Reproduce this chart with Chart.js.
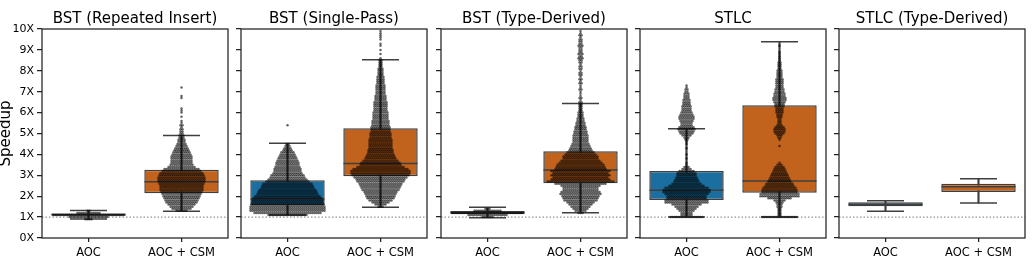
<!DOCTYPE html>
<html lang="en">
<head>
  <meta charset="UTF-8" />
  <title>Speedup per benchmark</title>
  <script src="https://cdn.jsdelivr.net/npm/chart.js"></script>
  <style>
    body { margin: 0; background: #fff; }
    #wrap { position: relative; width: 1034px; height: 274px; }
    canvas { position: absolute; top: 0; }
  </style>
</head>
<body>
  <div id="wrap">
    <canvas id="p0" width="230" height="274" style="left:0px"></canvas>
    <canvas id="p1" width="196" height="274" style="left:233px"></canvas>
    <canvas id="p2" width="196" height="274" style="left:433px"></canvas>
    <canvas id="p3" width="196" height="274" style="left:632px"></canvas>
    <canvas id="p4" width="196" height="274" style="left:831px"></canvas>
  </div>

  <script>
    const panelTitles = ['BST (Repeated Insert)', 'BST (Single-Pass)', 'BST (Type-Derived)', 'STLC', 'STLC (Type-Derived)'];
    const groups = ['AOC', 'AOC + CSM'];
    const yTicks = [0, 1, 2, 3, 4, 5, 6, 7, 8, 9, 10];
    const baseline = 1;

    // box statistics, [panel][group]
    const whiskerLow  = [[0.91, 1.28], [1.10, 1.47], [0.97, 1.21], [1.00, 1.00], [1.28, 1.67]];
    const q1          = [[1.07, 2.14], [1.55, 2.95], [1.15, 2.62], [1.82, 2.17], [1.52, 2.20]];
    const median      = [[1.12, 2.69], [1.87, 3.56], [1.22, 3.25], [2.28, 2.73], [1.60, 2.45]];
    const q3          = [[1.17, 3.27], [2.76, 5.25], [1.29, 4.15], [3.21, 6.35], [1.71, 2.60]];
    const whiskerHigh = [[1.31, 4.91], [4.53, 8.53], [1.47, 6.44], [5.23, 9.39], [1.78, 2.84]];

    // swarm: number of runs in each 0.1 band, starting at swarmStart
    const swarmStep = 0.1;
    const swarmStart = [[0.9, 1.3], [1.1, 1.5], [1.0, 1.2], [1.0, 1.0], [0, 0]];

    const repeatedAoc = [4, 20, 36, 12, 2];
    const repeatedCsm = [6,10,12,14,16,17,18,19,20,21, 22,22,22,23,24,24,24,23,22,20,
                         18,14,12,11,11,11,11,10,9,8, 7,6,5,4,4,3,3,2,2,2,
                         1,2,1,1,0,1,0,1,1,1, 0,0,0,0,1,1,0,0,0,1];
    const singleAoc = [20,34,38,38,38,37,36,36,35,33, 31,30,29,27,26,25,22,20,18,17,
                       15,14,14,13,12,12,11,10,9,8, 7,5,4,3,2,0,0,0,0,0, 0,0,0,1];
    const singleCsm = [3,6,9,12,14,15,16,17,19,20, 21,22,24,25,27,29,30,30,28,24,
                       21,20,18,16,15,14,13,13,12,12, 12,12,12,11,11,11,10,10,10,9,
                       9,9,8,8,8,8,7,7,7,7, 7,6,6,6,5,5,5,5,5,4,
                       4,4,4,3,3,3,3,2,2,2, 2,1,0,1,0,1,0,1,1,0, 1,1,1,1,1];
    const typeAoc = [6, 20, 36, 14, 3];
    const typeCsm = [3,6,8,10,12,14,17,18,19,21, 20,18,18,20,26,34,30,28,30,28,
                     30,26,25,24,22,20,18,18,16,14, 12,11,10,9,8,8,8,8,7,7,
                     6,6,5,5,4,4,3,3,3,2, 2,2,2,2,1,2,1,1,1,2,
                     1,1,2,1,2,1,2,2,1,2, 2,1,2,2,3,2,3,2,2,2, 3,2,2,2,1,2,1,1];
    const stlcAoc = [17,6,6,8,10,12,15,22,22,20, 20,22,24,24,22,18,15,13,12,11,
                     10,10,8,5,3,1,1,0,1,0, 1,0,0,1,0,1,1,2,3,5,
                     7,8,9,8,6,6,7,8,8,7, 6,5,5,5,4,4,4,3,3,3, 2,2,1,1];
    const stlcCsm = [18,2,2,2,2,3,3,4,6,12, 20,20,18,18,17,15,14,12,11,10,
                     9,8,7,6,5,3,1,0,0,0, 0,0,0,0,1,0,0,1,2,3,
                     5,6,6,5,3,2,2,2,3,3, 4,4,4,5,5,6,7,7,6,6,
                     5,5,4,4,4,4,4,3,3,3, 3,2,2,2,2,1,1,1,1,1, 0,0,1];
    const stlcTypeAoc = [];
    const stlcTypeCsm = [];

    const swarmCounts = [
      [repeatedAoc, repeatedCsm],
      [singleAoc, singleCsm],
      [typeAoc, typeCsm],
      [stlcAoc, stlcCsm],
      [stlcTypeAoc, stlcTypeCsm]
    ];

    Chart.defaults.font.family = "'DejaVu Sans', sans-serif";
    Chart.defaults.color = '#000';

    const boxColors = ['#1a6fa0', '#c1631d'];
    const lineColor = '#3f3f3f';
    const dotStep = 0.0215; // ~2px between neighbouring dots

    const frame = {
      id: 'frame',
      afterDatasetsDraw(chart) {
        const { ctx, chartArea: a } = chart;
        ctx.save();
        ctx.strokeStyle = '#222';
        ctx.lineWidth = 1.25;
        ctx.strokeRect(a.left, a.top, a.right - a.left, a.bottom - a.top);
        ctx.restore();
      }
    };

    function makePanel(p) {
      const first = p === 0;

      const swarm = [];
      groups.forEach((g, gi) => {
        swarmCounts[p][gi].forEach((n, i) => {
          const y = +(swarmStart[p][gi] + i * swarmStep).toFixed(2);
          for (let k = 0; k < n; k++) swarm.push({ x: gi + (k - (n - 1) / 2) * dotStep, y: y });
        });
      });

      const caps = [];
      groups.forEach((g, gi) => {
        caps.push({ x: gi, y: whiskerLow[p][gi] }, { x: gi, y: whiskerHigh[p][gi] });
      });

      new Chart(document.getElementById('p' + p), {
        type: 'scatter',
        data: {
          datasets: [
            {
              type: 'line',
              data: [{ x: -0.5, y: baseline }, { x: 1.5, y: baseline }],
              borderColor: '#777', borderWidth: 1, borderDash: [1.5, 2],
              pointRadius: 0, order: 6
            },
            {
              type: 'bar',
              data: groups.map((g, gi) => ({ x: gi, y: [whiskerLow[p][gi], whiskerHigh[p][gi]] })),
              backgroundColor: lineColor, barThickness: 1.5, grouped: false, order: 5
            },
            {
              type: 'bar',
              data: groups.map((g, gi) => ({ x: gi, y: [q1[p][gi], q3[p][gi]] })),
              backgroundColor: boxColors, borderColor: lineColor, borderWidth: 1.5,
              borderSkipped: false, grouped: false,
              categoryPercentage: 0.8, barPercentage: 1, order: 4
            },
            {
              data: caps, pointStyle: 'line', pointRadius: 18.5,
              borderColor: lineColor, borderWidth: 1.5, order: 3
            },
            {
              data: groups.map((g, gi) => ({ x: gi, y: median[p][gi] })),
              pointStyle: 'line', pointRadius: 37,
              borderColor: lineColor, borderWidth: 1.5, order: 3
            },
            {
              data: swarm, pointRadius: 1.25, pointBorderWidth: 0,
              backgroundColor: 'rgba(0,0,0,0.6)', order: 1
            }
          ]
        },
        options: {
          responsive: false,
          animation: false,
          events: [],
          layout: { autoPadding: false, padding: { left: 0, right: 2, top: 0, bottom: 0 } },
          plugins: {
            legend: { display: false },
            tooltip: { enabled: false },
            title: {
              display: true,
              text: panelTitles[p],
              fullSize: false,
              font: { size: 15, weight: 'normal' },
              padding: { top: 10, bottom: 1 }
            }
          },
          scales: {
            x: {
              type: 'linear', min: -0.5, max: 1.5, offset: false,
              afterBuildTicks: s => { s.ticks = groups.map((g, i) => ({ value: i })); },
              afterFit: s => { s.height = 36; s.paddingLeft = 0; s.paddingRight = 0; },
              border: { display: false },
              grid: { drawOnChartArea: false, offset: false, tickLength: 4, color: '#222', lineWidth: 1.25 },
              ticks: { callback: v => groups[v], font: { size: 11.5 }, padding: 4, autoSkip: false, maxRotation: 0 }
            },
            y: {
              type: 'linear', min: 0, max: 10,
              afterBuildTicks: s => { s.ticks = yTicks.map(v => ({ value: v })); },
              afterFit: s => { s.width = first ? 42 : 8; },
              border: { display: false },
              grid: { drawOnChartArea: false, tickLength: 5, color: '#222', lineWidth: 1.25 },
              ticks: { display: first, callback: v => v + 'X', font: { size: 11 }, padding: 3 },
              title: { display: first, text: 'Speedup', font: { size: 15, lineHeight: 0.8 }, padding: 0 }
            }
          }
        },
        plugins: [frame]
      });
    }

    for (let p = 0; p < panelTitles.length; p++) makePanel(p);
  </script>
</body>
</html>
